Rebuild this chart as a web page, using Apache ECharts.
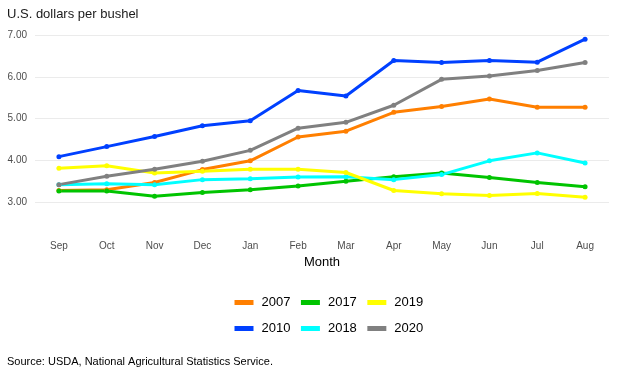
<!DOCTYPE html>
<html>
<head>
<meta charset="utf-8">
<script src="https://cdn.jsdelivr.net/npm/echarts@6/dist/echarts.min.js"></script>
<style>
html,body{margin:0;padding:0;background:#fff;}
#c{width:625px;height:370px;}
</style>
</head>
<body>
<div id="c"></div>
<script>
const months = ['Sep','Oct','Nov','Dec','Jan','Feb','Mar','Apr','May','Jun','Jul','Aug'];
const y2007 = [3.28,3.30,3.47,3.78,3.99,4.56,4.70,5.15,5.29,5.47,5.27,5.27];
const y2010 = [4.09,4.33,4.57,4.83,4.95,5.67,5.54,6.39,6.34,6.39,6.35,6.90];
const y2017 = [3.27,3.27,3.14,3.23,3.30,3.39,3.50,3.61,3.70,3.59,3.47,3.37];
const y2018 = [3.42,3.44,3.42,3.54,3.56,3.60,3.61,3.54,3.66,3.99,4.18,3.94];
const y2019 = [3.81,3.87,3.70,3.74,3.79,3.79,3.71,3.28,3.20,3.16,3.21,3.12];
const y2020 = [3.42,3.62,3.79,3.98,4.24,4.77,4.91,5.32,5.94,6.02,6.15,6.34];
const yTicks = [3,4,5,6,7];

const colors = {
  '2007':'#FF7F00','2010':'#0040FF','2017':'#00C400',
  '2018':'#00FFFF','2019':'#FFFF00','2020':'#808080'
};
const seriesData = [['2007',y2007],['2010',y2010],['2017',y2017],['2018',y2018],['2019',y2019],['2020',y2020]];

const chart = echarts.init(document.getElementById('c'), null, {renderer:'canvas'});
const font = 'Arial, "Liberation Sans", sans-serif';
const legendCommon = {
  left: 227, orient:'horizontal', itemWidth:19, itemHeight:4, itemGap:8,
  lineStyle:{width:5},
  textStyle:{fontFamily:font, fontSize:13, color:'#000', padding:[0,0,0,3]},
  selectedMode:false
};
chart.setOption({
  animation:false,
  color: seriesData.map(d=>colors[d[0]]),
  title:[
    {text:'U.S. dollars per bushel', left:2, top:3, textStyle:{fontFamily:font, fontSize:13, fontWeight:'normal', color:'#1a1a1a'}},
    {text:'Source: USDA, National Agricultural Statistics Service.', left:2, top:351, textStyle:{fontFamily:font, fontSize:11, fontWeight:'normal', color:'#000'}}
  ],
  legend:[
    Object.assign({top:291, data:['2007','2017','2019']}, legendCommon),
    Object.assign({top:317, data:['2010','2018','2020']}, legendCommon)
  ],
  grid:{left:35, right:16, top:35, bottom:126, containLabel:false},
  xAxis:{
    type:'category', data:months, boundaryGap:true,
    axisLine:{show:false}, axisTick:{show:false},
    axisLabel:{color:'#4d4d4d', fontSize:10, fontFamily:font, margin:-3},
    name:'Month', nameLocation:'middle', nameGap:9,
    nameTextStyle:{fontFamily:font, fontSize:13, color:'#000'}
  },
  yAxis:{
    type:'value', min:2, max:7, interval:1,
    axisLine:{show:false}, axisTick:{show:false},
    axisLabel:{color:'#4d4d4d', fontSize:10, fontFamily:font, margin:8, showMinLabel:false,
      formatter:v=> yTicks.indexOf(v)>=0 ? v.toFixed(2) : ''},
    splitLine:{show:true, showMinLine:false, lineStyle:{color:'#EBEBEB', width:1}}
  },
  series: seriesData.map(d=>({
    name:d[0], type:'line', data:d[1],
    symbol:'circle', symbolSize:5, showSymbol:true,
    lineStyle:{width:3, color:colors[d[0]]},
    itemStyle:{color:colors[d[0]]}
  }))
});
</script>
</body>
</html>
